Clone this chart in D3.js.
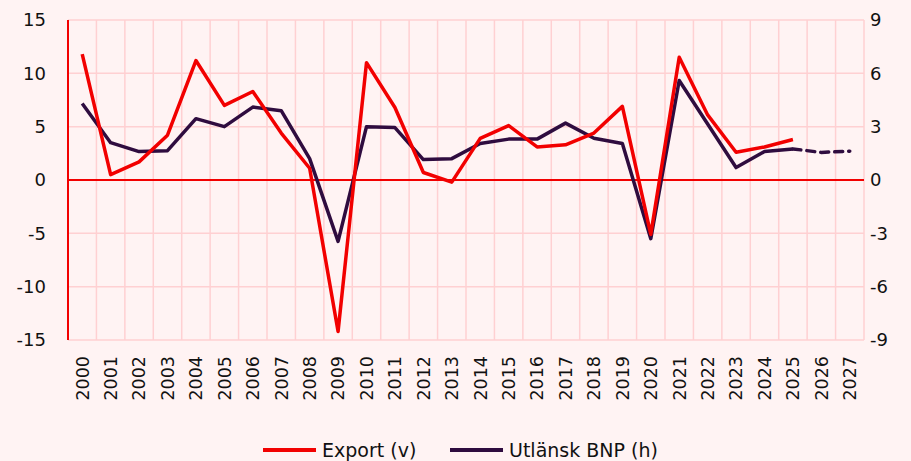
<!DOCTYPE html>
<html>
<head>
<meta charset="utf-8">
<script src="https://cdn.jsdelivr.net/npm/d3@7"></script>
<style>
  html, body { margin: 0; padding: 0; background: #fff3f3; }
  svg text { font-family: "DejaVu Sans", sans-serif; fill: #111; }
</style>
</head>
<body>
<svg id="chart" width="911" height="461"></svg>
<script>
var years = ["2000","2001","2002","2003","2004","2005","2006","2007","2008","2009",
             "2010","2011","2012","2013","2014","2015","2016","2017","2018","2019",
             "2020","2021","2022","2023","2024","2025","2026","2027"];
// Export, left axis (v)
var exportVals = [11.8, 0.5, 1.7, 4.2, 11.2, 7.0, 8.3, 4.4, 1.1, -14.2,
                  11.0, 6.8, 0.7, -0.2, 3.9, 5.1, 3.1, 3.3, 4.4, 6.9,
                  -5.1, 11.5, 6.1, 2.6, 3.1, 3.8, null, null];
// Utlandsk BNP, right axis (h)
var bnpVals = [4.3, 2.1, 1.6, 1.65, 3.45, 3.0, 4.1, 3.9, 1.2, -3.45,
               3.0, 2.95, 1.15, 1.2, 2.05, 2.3, 2.3, 3.2, 2.35, 2.05,
               -3.3, 5.6, 3.15, 0.7, 1.6, 1.75, 1.55, 1.62];
var lastActual = "2025";
var leftTicks = [-15, -10, -5, 0, 5, 10, 15];
var rightTicks = [-9, -6, -3, 0, 3, 6, 9];

var red = "#f20000", purple = "#2f0c3f", grid = "#ffd0d2";
var margin = {top: 20, right: 47, bottom: 121, left: 68};
var width = 911 - margin.left - margin.right,
    height = 461 - margin.top - margin.bottom;

var svg = d3.select("#chart")
  .append("g")
    .attr("transform", "translate(" + margin.left + "," + margin.top + ")");

var x = d3.scaleBand().domain(years).range([0, width]);
var yL = d3.scaleLinear().domain([-15, 15]).range([height, 0]);
var yR = d3.scaleLinear().domain([-9, 9]).range([height, 0]);
var cx = function(d) { return x(d) + x.bandwidth() / 2; };
var plain = function(d) { return String(d); }; // hyphen minus, like the original

// grid
svg.append("g").selectAll("line.h")
  .data(leftTicks).join("line")
    .attr("x1", 0).attr("x2", width)
    .attr("y1", function(d) { return yL(d); }).attr("y2", function(d) { return yL(d); })
    .attr("stroke", grid).attr("stroke-width", 1.5);
svg.append("g").selectAll("line.v")
  .data(years.concat(["end"])).join("line")
    .attr("x1", function(d, i) { return i * x.bandwidth(); })
    .attr("x2", function(d, i) { return i * x.bandwidth(); })
    .attr("y1", 0).attr("y2", height)
    .attr("stroke", grid).attr("stroke-width", 1.5);

// zero line and left axis line
svg.append("line").attr("x1", 0).attr("x2", width)
  .attr("y1", yL(0)).attr("y2", yL(0))
  .attr("stroke", red).attr("stroke-width", 2);
svg.append("line").attr("x1", 0).attr("x2", 0)
  .attr("y1", 0).attr("y2", height)
  .attr("stroke", red).attr("stroke-width", 2);

// axes
var leftAxis = svg.append("g")
  .call(d3.axisLeft(yL).tickValues(leftTicks).tickFormat(plain).tickSize(0).tickPadding(22));
var rightAxis = svg.append("g")
  .attr("transform", "translate(" + width + ",0)")
  .call(d3.axisRight(yR).tickValues(rightTicks).tickFormat(plain).tickSize(0).tickPadding(6));
var bottomAxis = svg.append("g")
  .attr("transform", "translate(0," + height + ")")
  .call(d3.axisBottom(x).tickSize(0).tickPadding(0));
[leftAxis, rightAxis, bottomAxis].forEach(function(a) {
  a.select(".domain").remove();
  a.selectAll("text").style("font-family", "DejaVu Sans, sans-serif").attr("fill", "#111");
});
leftAxis.selectAll("text").style("font-size", "18px");
rightAxis.selectAll("text").style("font-size", "18px");
bottomAxis.selectAll("text")
  .style("font-size", "17.5px")
  .attr("transform", "rotate(-90)")
  .attr("text-anchor", "end")
  .attr("x", -16).attr("y", 0).attr("dy", "0.36em");

// lines
var exportLine = d3.line()
  .defined(function(d) { return d[1] != null; })
  .x(function(d) { return cx(d[0]); })
  .y(function(d) { return yL(d[1]); });
var bnpLine = d3.line()
  .x(function(d) { return cx(d[0]); })
  .y(function(d) { return yR(d[1]); });

var exportPts = years.map(function(y, i) { return [y, exportVals[i]]; });
var bnpPts = years.map(function(y, i) { return [y, bnpVals[i]]; });
var cut = years.indexOf(lastActual);

svg.append("path").datum(bnpPts.slice(0, cut + 1))
  .attr("d", bnpLine).attr("fill", "none")
  .attr("stroke", purple).attr("stroke-width", 3.5).attr("stroke-linejoin", "round");
svg.append("path").datum(bnpPts.slice(cut))
  .attr("d", bnpLine).attr("fill", "none")
  .attr("stroke", purple).attr("stroke-width", 3.5)
  .attr("stroke-dasharray", "8,6").attr("stroke-linecap", "round");
svg.append("path").datum(exportPts)
  .attr("d", exportLine).attr("fill", "none")
  .attr("stroke", red).attr("stroke-width", 3.5).attr("stroke-linejoin", "round");

// legend
var legend = d3.select("#chart").append("g").attr("transform", "translate(263,450)");
var items = [{name: "Export (v)", color: red, x: 0}, {name: "Utl\u00e4nsk BNP (h)", color: purple, x: 187}];
items.forEach(function(it) {
  var g = legend.append("g").attr("transform", "translate(" + it.x + ",0)");
  g.append("line").attr("x1", 0).attr("x2", 53).attr("y1", 0).attr("y2", 0)
    .attr("stroke", it.color).attr("stroke-width", 4);
  g.append("text").attr("x", 59).attr("y", 0).attr("dy", "0.35em")
    .style("font-size", "19px").text(it.name);
});
</script>
</body>
</html>
